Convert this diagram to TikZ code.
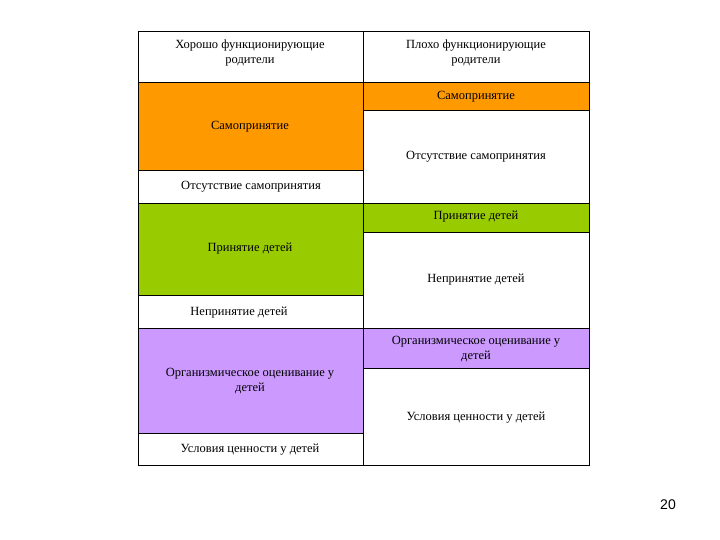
\documentclass[tikz,border=0pt]{standalone}
\usepackage{fontspec}
\setmainfont{Liberation Serif}
\newfontfamily\numfont{Liberation Sans}
\definecolor{or}{HTML}{FF9900}
\definecolor{gr}{HTML}{99CC00}
\definecolor{pu}{HTML}{CC99FF}
\begin{document}
\begin{tikzpicture}[x=1pt,y=-1pt,
  cell/.style={draw=black,line width=0.8pt},
  txt/.style={font=\fontsize{12.5}{14.5}\selectfont,align=center,inner sep=0pt}]
\useasboundingbox (0,0) rectangle (720,540);
% left column
\path[cell] (138,31) rectangle (363,82);
\path[cell,fill=or] (138,82) rectangle (363,170);
\path[cell] (138,170) rectangle (363,203);
\path[cell,fill=gr] (138,203) rectangle (363,295);
\path[cell] (138,295) rectangle (363,328);
\path[cell,fill=pu] (138,328) rectangle (363,433);
\path[cell] (138,433) rectangle (363,465);
% right column
\path[cell] (363,31) rectangle (589,82);
\path[cell,fill=or] (363,82) rectangle (589,110);
\path[cell] (363,110) rectangle (589,203);
\path[cell,fill=gr] (363,203) rectangle (589,232);
\path[cell] (363,232) rectangle (589,328);
\path[cell,fill=pu] (363,328) rectangle (589,368);
\path[cell] (363,368) rectangle (589,465);
% texts
\node[txt] (h1) at (250,53) {Хорошо функционирующие\\родители};
\node[txt] (h2) at (476,53) {Плохо функционирующие\\родители};
\node[txt] (l1) at (250,127) {Самопринятие};
\node[txt] (l2) at (251,187) {Отсутствие самопринятия};
\node[txt] (l3) at (250,249) {Принятие детей};
\node[txt] (l4) at (239,313) {Непринятие детей};
\node[txt] (l5) at (250,381) {Организмическое оценивание у\\детей};
\node[txt] (l6) at (250,450) {Условия ценности у детей};
\node[txt] (r1) at (476,97) {Самопринятие};
\node[txt] (r2) at (476,157) {Отсутствие самопринятия};
\node[txt] (r3) at (476,217) {Принятие детей};
\node[txt] (r4) at (476,280) {Непринятие детей};
\node[txt] (r5) at (476,349) {Организмическое оценивание у\\детей};
\node[txt] (r6) at (476,418) {Условия ценности у детей};
\node[font=\numfont\fontsize{14}{16}\selectfont,inner sep=0pt] (pg) at (668,505) {20};
\end{tikzpicture}
\end{document}
